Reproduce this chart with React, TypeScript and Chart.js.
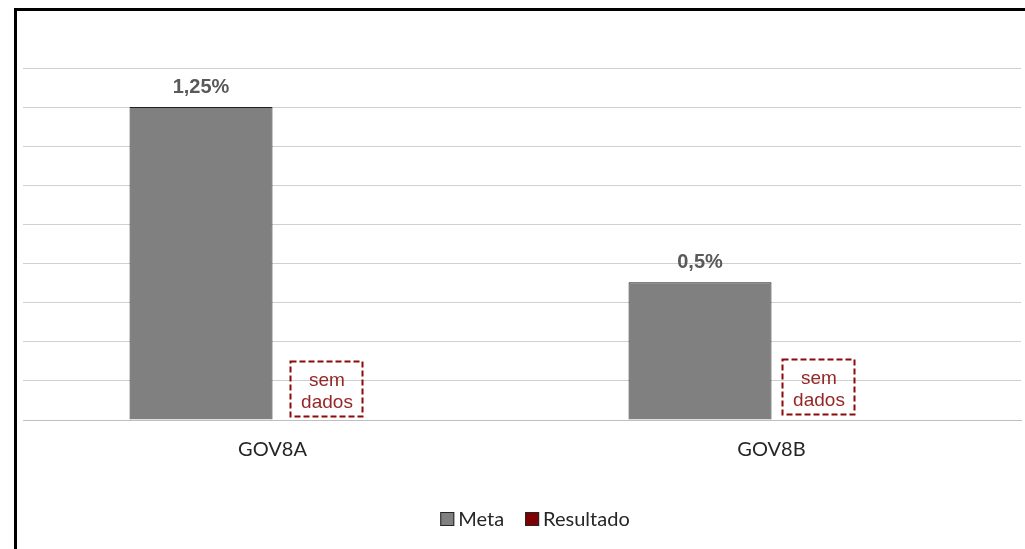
import React, { useEffect, useRef } from "react";
import { Chart, registerables } from "chart.js";

Chart.register(...registerables);

const categories = ["GOV8A", "GOV8B"];
const seriesNames = ["Meta", "Resultado"];
const metaValues = [1.25, 0.55];
const metaLabels = ["1,25%", "0,5%"];
const resultadoValues: (number | null)[] = [null, null];
const noDataLines = ["sem", "dados"];
const yMax = 1.40625;
const yStep = 0.15625;

const META_COLOR = "#808080";
const RESULT_COLOR = "#7F0000";
const CALIBRI_LIKE = "Lato, 'Open Sans', sans-serif";
const ARIAL_LIKE = "'Liberation Sans', Arial, sans-serif";

const dataLabelPlugin = {
  id: "dataLabelPlugin",
  afterDatasetsDraw(chart: any) {
    const ctx = chart.ctx;
    const meta = chart.getDatasetMeta(0);
    ctx.save();
    ctx.font = `bold 20px ${ARIAL_LIKE}`;
    ctx.fillStyle = "#595959";
    ctx.textAlign = "center";
    ctx.textBaseline = "alphabetic";
    meta.data.forEach((el: any, i: number) => {
      ctx.fillText(metaLabels[i], el.x, el.y - 14);
    });
    ctx.restore();
  },
};

const noDataPlugin = {
  id: "noDataPlugin",
  afterDatasetsDraw(chart: any, _args: any, opts: any) {
    const ctx = chart.ctx;
    const xs = chart.scales.x;
    const ys = chart.scales.y;
    const base = ys.getPixelForValue(0);
    ctx.save();
    resultadoValues.forEach((v, i) => {
      if (v !== null) return;
      const cx = xs.getPixelForValue(i) + opts.offsets[i];
      const w = 72;
      const h = 55;
      const bottom = base - opts.lift[i];
      const left = Math.round(cx - w / 2);
      const top = Math.round(bottom - h);
      ctx.setLineDash([6, 3]);
      ctx.lineWidth = 2;
      ctx.strokeStyle = "#8B0A0A";
      ctx.strokeRect(left + 0.5, top + 0.5, w, h);
      ctx.setLineDash([]);
      ctx.fillStyle = "#962626";
      ctx.font = `19px ${ARIAL_LIKE}`;
      ctx.textAlign = "center";
      ctx.textBaseline = "alphabetic";
      ctx.fillText(noDataLines[0], left + w / 2 + 1, top + 25);
      ctx.fillText(noDataLines[1], left + w / 2 + 1, top + 47);
    });
    ctx.restore();
  },
};

const legendPlugin = {
  id: "customLegend",
  afterDraw(chart: any, _args: any, opts: any) {
    const ctx = chart.ctx;
    ctx.save();
    ctx.font = `20px ${CALIBRI_LIKE}`;
    const box = 14;
    const gap = 4;
    const itemGap = 21;
    const colors = [META_COLOR, RESULT_COLOR];
    const widths = seriesNames.map((n) => box + gap + ctx.measureText(n).width);
    const total = widths.reduce((a, b) => a + b, 0) + itemGap * (seriesNames.length - 1);
    let x = opts.centerX - total / 2;
    const y = opts.y;
    seriesNames.forEach((name, i) => {
      ctx.fillStyle = colors[i];
      ctx.fillRect(x, y - box / 2, box, box);
      ctx.strokeStyle = "#262626";
      ctx.lineWidth = 1;
      ctx.strokeRect(x + 0.5, y - box / 2 + 0.5, box - 1, box - 1);
      ctx.fillStyle = "#262626";
      ctx.textAlign = "left";
      ctx.textBaseline = "middle";
      ctx.fillText(name, x + box + gap, y + 1);
      x += widths[i] + itemGap;
    });
    ctx.restore();
  },
};

export default function App() {
  const canvasRef = useRef<HTMLCanvasElement | null>(null);

  useEffect(() => {
    if (!canvasRef.current) return;
    const chart = new Chart(canvasRef.current, {
      type: "bar",
      data: {
        labels: categories,
        datasets: [
          {
            label: seriesNames[0],
            data: metaValues,
            backgroundColor: META_COLOR,
            borderColor: "#1f1f1f",
            borderWidth: 1,
            borderSkipped: "bottom",
            categoryPercentage: 0.573,
            barPercentage: 1,
          },
          {
            label: seriesNames[1],
            data: resultadoValues,
            backgroundColor: RESULT_COLOR,
            borderColor: "#1f1f1f",
            borderWidth: 1,
            categoryPercentage: 0.573,
            barPercentage: 1,
          },
        ],
      },
      options: {
        responsive: false,
        animation: false,
        layout: { padding: { left: 6, right: 4, top: 57, bottom: 0 } },
        plugins: {
          legend: { display: false },
          tooltip: { enabled: false },
          title: { display: false },
          customLegend: { centerX: 518, y: 508 },
          noDataPlugin: { offsets: [53.5, 46.5], lift: [4, 6] },
        } as any,
        scales: {
          x: {
            grid: { display: false, drawTicks: false },
            border: { display: true, color: "#BFBFBF", width: 1 },
            ticks: {
              padding: 18,
              color: "#262626",
              font: { family: CALIBRI_LIKE, size: 20 },
            },
            afterFit: (s: any) => {
              s.height = 129;
            },
          },
          y: {
            min: 0,
            max: yMax,
            grid: { color: "#D0D0D0", lineWidth: 1, drawTicks: false },
            border: { display: false },
            ticks: { display: false, stepSize: yStep },
          },
        },
      },
      plugins: [dataLabelPlugin, noDataPlugin, legendPlugin],
    });
    return () => chart.destroy();
  }, []);

  return (
    <div
      style={{
        position: "fixed",
        left: 14,
        top: 8,
        right: 0,
        bottom: 0,
        borderTop: "3px solid #000",
        borderLeft: "3px solid #000",
        background: "#fff",
        overflow: "hidden",
      }}
    >
      <canvas
        ref={canvasRef}
        width={1008}
        height={538}
        style={{ position: "absolute", left: 0, top: 0, display: "block" }}
      />
    </div>
  );
}
